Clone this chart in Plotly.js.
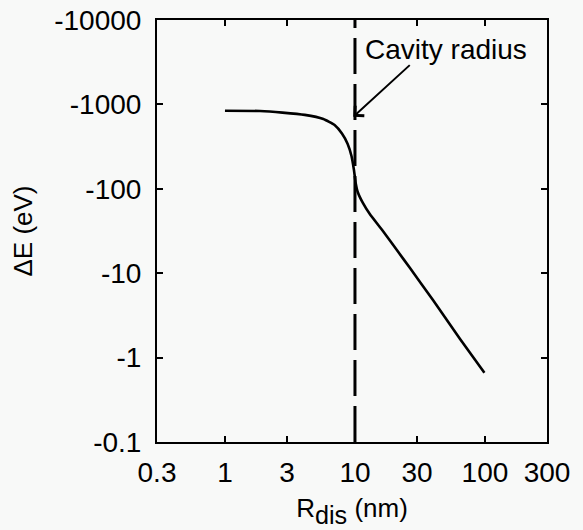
<!DOCTYPE html>
<html>
<head>
<meta charset="utf-8">
<script src="https://cdn.plot.ly/plotly-3.0.1.min.js"></script>
<style>html,body{margin:0;padding:0;background:#f8f9f8;}</style>
</head>
<body>
<div id="chart" style="width:583px;height:530px;"></div>
<script>
// Data (x in nm, magnitude of ΔE in eV)
const rdis = [1, 1.86, 2.77, 4.11, 5.71, 6.97, 7.94, 8.77, 9.4, 9.82, 10.1, 10.5, 11.5, 13.0, 16.4, 21.0, 26.5, 39.8, 64.3, 99];
const dEmag = [840, 835, 800, 751, 671, 570, 452, 342, 245, 167, 120, 91.6, 67.9, 50.2, 31.6, 18.8, 11.5, 4.81, 1.66, 0.66];
const xTickVals = [0.3, 1, 3, 10, 30, 100, 300];
const xTickText = ['0.3', '1', '3', '10', '30', '100', '300'];
const yTickVals = [0.1, 1, 10, 100, 1000, 10000];
const yTickText = ['-0.1', '-1', '-10', '-100', '-1000', '-10000'];
const cavityRadius = 10;

const font = 'Liberation Sans, Arial, sans-serif';
const trace = {
  x: rdis, y: dEmag, type: 'scatter', mode: 'lines',
  line: {color: '#000', width: 2.6, shape: 'spline', smoothing: 0.4},
  hoverinfo: 'skip'
};
const axisCommon = {
  type: 'log', showline: true, linecolor: '#000', linewidth: 2, mirror: 'ticks',
  ticks: 'inside', ticklen: 6, tickwidth: 2, tickcolor: '#000',
  showgrid: false, zeroline: false, tickmode: 'array',
  tickfont: {family: font, size: 28, color: '#000'}
};
const layout = {
  width: 583, height: 530,
  margin: {l: 157, r: 36, t: 20, b: 88},
  paper_bgcolor: '#f8f9f8', plot_bgcolor: '#f8f9f8',
  showlegend: false,
  xaxis: Object.assign({}, axisCommon, {
    range: [Math.log10(0.3), Math.log10(300)],
    tickvals: xTickVals, ticktext: xTickText,
    ticklabelstandoff: 4,
    title: {text: 'R<span style="font-size:36px"><sub>dis</sub></span> (nm)', font: {family: font, size: 26, color: '#000'}, standoff: 12}
  }),
  yaxis: Object.assign({}, axisCommon, {
    range: [-1, 4],
    tickvals: yTickVals, ticktext: yTickText,
    ticklabelstandoff: 8,
    title: {text: 'ΔE (eV)', font: {family: font, size: 26, color: '#000'}, standoff: 14}
  }),
  shapes: [{
    type: 'line', xref: 'x', yref: 'paper', x0: cavityRadius, x1: cavityRadius, y0: 0, y1: 1,
    line: {color: '#000', width: 3, dash: '36px,10px'}
  }],
  annotations: [
    {xref: 'x', yref: 'y', x: 1.70, y: 3.645, text: 'Cavity radius', showarrow: false,
     font: {family: font, size: 28, color: '#000'}, xanchor: 'center', yanchor: 'middle'},
    {xref: 'x', yref: 'y', x: Math.log10(9.7), y: Math.log10(714), text: '', showarrow: true,
     ax: 58, ay: -53, arrowhead: 4, arrowsize: 1.3, arrowwidth: 2, arrowcolor: '#000'}
  ]
};
Plotly.newPlot('chart', [trace], layout, {displayModeBar: false, staticPlot: true});
</script>
</body>
</html>
